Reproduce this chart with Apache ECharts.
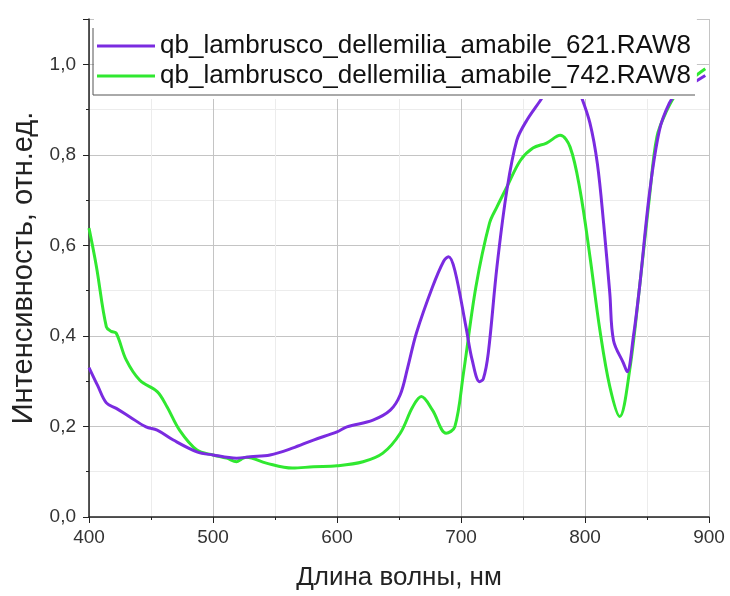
<!DOCTYPE html>
<html>
<head>
<meta charset="utf-8">
<script src="https://cdn.jsdelivr.net/npm/echarts@6/dist/echarts.min.js"></script>
<style>
  html, body { margin: 0; padding: 0; background: #fff; }
  #chart { width: 730px; height: 596px; }
</style>
</head>
<body>
<div id="chart"></div>
<script>
// spectra
var name621 = 'qb_lambrusco_dellemilia_amabile_621.RAW8';
var name742 = 'qb_lambrusco_dellemilia_amabile_742.RAW8';

var wl621 = [400,407,414,422,433,446,455,468,487,500,519,530,546,564,581,600,608,629,643,651,657,664,677,686,690,695,704,709,715,718,722,729,737,745,753,764,770,780,790,796,804,810,815,820,823,831,834,839,844,852,860,868,875,885,897];
var val621 = [0.33,0.29,0.252,0.24,0.221,0.199,0.192,0.17,0.144,0.137,0.13,0.133,0.137,0.152,0.17,0.188,0.199,0.214,0.236,0.27,0.33,0.406,0.508,0.565,0.575,0.545,0.42,0.347,0.299,0.305,0.362,0.553,0.722,0.832,0.876,0.92,0.945,0.985,0.975,0.936,0.87,0.78,0.649,0.494,0.39,0.34,0.321,0.398,0.508,0.715,0.854,0.914,0.94,0.955,0.975];

var wl742 = [400,406,414,418,422,430,441,455,463,473,487,500,511,519,523,527,543,564,581,600,621,637,651,661,668,677,688,695,702,712,723,729,737,748,758,769,780,788,796,804,812,820,828,836,844,852,858,866,874,885,897];
var val742 = [0.638,0.553,0.42,0.41,0.406,0.347,0.302,0.277,0.243,0.192,0.148,0.137,0.13,0.122,0.128,0.132,0.119,0.108,0.111,0.113,0.122,0.141,0.185,0.243,0.266,0.236,0.185,0.199,0.318,0.508,0.649,0.685,0.729,0.788,0.815,0.826,0.843,0.817,0.722,0.575,0.413,0.288,0.222,0.324,0.508,0.707,0.84,0.898,0.936,0.965,0.99];

function pairs(xs, ys){
    var out = [];
    for (var i = 0; i < xs.length; i++) out.push([xs[i], ys[i]]);
    return out;
}

var myChart = echarts.init(document.getElementById('chart'));

var option = {
    animation: false,
    backgroundColor: '#fff',
    textStyle: { fontFamily: 'Liberation Sans, Arial, sans-serif' },
    grid: { left: 89, right: 21, top: 19, bottom: 79 },
    legend: {
        orient: 'vertical',
        left: 94,
        top: 19,
        padding: [14, 6, 10, 3],
        itemGap: 4,
        itemWidth: 58,
        itemHeight: 3,
        icon: 'rect',
        backgroundColor: '#fff',
        textStyle: { fontSize: 26, lineHeight: 24, color: '#111' },
        data: [name621, name742]
    },
    xAxis: {
        type: 'value',
        min: 400, max: 900, interval: 100,
        name: 'Длина волны, нм',
        nameLocation: 'middle',
        nameGap: 48,
        nameTextStyle: { fontSize: 26, color: '#222' },
        axisLine: { show: true, onZero: false, lineStyle: { color: '#222', width: 1.5 } },
        axisTick: { show: true, inside: false, length: 6, lineStyle: { color: '#222' } },
        minorTick: { show: true, splitNumber: 2, length: 3, lineStyle: { color: '#222' } },
        axisLabel: { fontSize: 19, color: '#333', margin: 11 },
        splitLine: { show: true, lineStyle: { color: '#c4c4c4', width: 1 } },
        minorSplitLine: { show: true, lineStyle: { color: '#ececec', width: 1 } }
    },
    yAxis: {
        type: 'value',
        min: 0, max: 1.1, interval: 0.2,
        name: 'Интенсивность, отн.ед.',
        nameLocation: 'middle',
        nameGap: 49,
        nameTextStyle: { fontSize: 29, color: '#222' },
        axisLine: { show: true, lineStyle: { color: '#222', width: 1.5 } },
        axisTick: { show: true, inside: false, length: 6, lineStyle: { color: '#222' } },
        minorTick: { show: true, splitNumber: 2, length: 3, lineStyle: { color: '#222' } },
        axisLabel: {
            fontSize: 19, color: '#333', margin: 13, showMaxLabel: false,
            formatter: function (v) { return v.toFixed(1).replace('.', ','); }
        },
        splitLine: { show: true, lineStyle: { color: '#c4c4c4', width: 1 } },
        minorSplitLine: { show: true, lineStyle: { color: '#ececec', width: 1 } }
    },
    series: [
        {
            name: name621,
            type: 'line',
            data: pairs(wl621, val621),
            symbol: 'none',
            smooth: 0.35,
            lineStyle: { color: '#7a2be0', width: 3 },
            itemStyle: { color: '#7a2be0' },
            z: 3
        },
        {
            name: name742,
            type: 'line',
            data: pairs(wl742, val742),
            symbol: 'none',
            smooth: 0.35,
            lineStyle: { color: '#30e830', width: 3 },
            itemStyle: { color: '#30e830' },
            z: 2
        }
    ],
    graphic: [
        {
            type: 'polyline',
            z: 100,
            shape: { points: [[93, 28], [93, 95], [695, 95]] },
            style: { stroke: '#555', lineWidth: 1, fill: null }
        }
    ]
};

myChart.setOption(option);
</script>
</body>
</html>
